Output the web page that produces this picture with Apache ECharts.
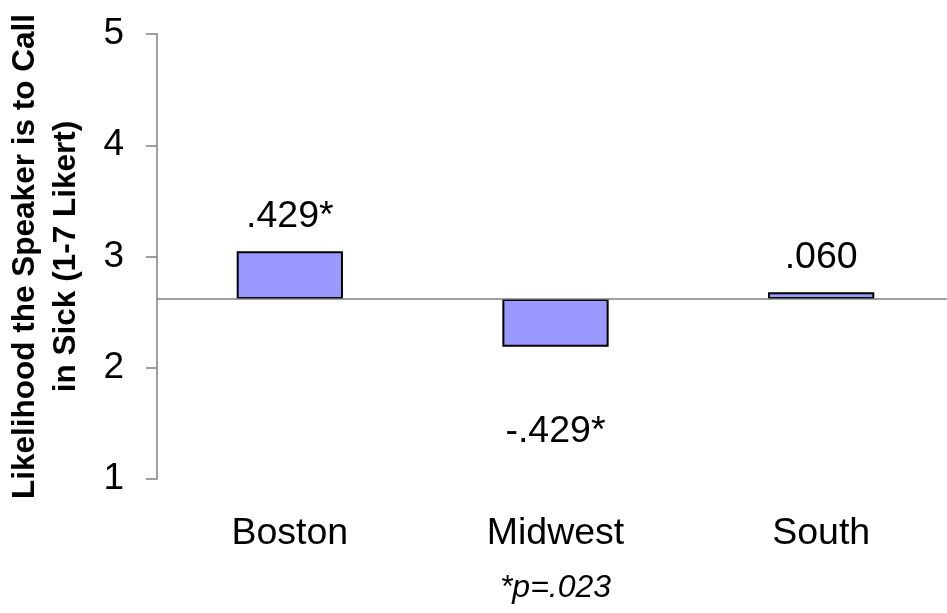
<!DOCTYPE html>
<html>
<head>
<meta charset="utf-8">
<script src="https://cdn.jsdelivr.net/npm/echarts@6/dist/echarts.min.js"></script>
<style>
html,body{margin:0;padding:0;background:#fff;}
#chart{width:947px;height:613px;}
</style>
</head>
<body>
<div id="chart"></div>
<script>
const categories = ['Boston', 'Midwest', 'South'];
const baseline = 2.618;
const deviations = [0.429, -0.429, 0.060];
const valueLabels = ['.429*', '-.429*', '.060'];
const yTickValues = [1, 2, 3, 4, 5];
const yTitle = 'Likelihood the Speaker is to Call\nin Sick (1-7 Likert)';
const xNote = '*p=.023';

const baseValues = deviations.map(d => d >= 0 ? baseline : baseline + d);
const barHeights = deviations.map(d => Math.abs(d));

const font = 'Arial, "Liberation Sans", sans-serif';
const chart = echarts.init(document.getElementById('chart'));
chart.setOption({
  animation: false,
  grid: { left: 157, right: -7, top: 34, bottom: 134, containLabel: false, outerBoundsMode: 'none' },
  xAxis: {
    type: 'category',
    data: categories,
    axisLine: { show: false },
    axisTick: { show: false },
    axisLabel: { color: '#000', fontSize: 37.5, fontFamily: font, margin: 36 },
    name: xNote,
    nameLocation: 'middle',
    nameGap: 93,
    nameTextStyle: { color: '#000', fontSize: 32, fontStyle: 'italic', fontFamily: font }
  },
  yAxis: {
    type: 'value',
    min: yTickValues[0],
    max: yTickValues[yTickValues.length - 1],
    interval: 1,
    splitLine: { show: false },
    axisLine: { show: true, lineStyle: { color: '#808080', width: 1.5 } },
    axisTick: { show: true, inside: false, length: 11, lineStyle: { color: '#808080', width: 1.5 } },
    axisLabel: { color: '#000', fontSize: 37, fontFamily: font, margin: 33 },
    name: yTitle,
    nameLocation: 'middle',
    nameRotate: 90,
    nameGap: 70,
    nameTextStyle: { color: '#000', fontSize: 31.5, fontWeight: 'bold', fontFamily: font, lineHeight: 41 }
  },
  series: [
    {
      type: 'bar',
      stack: 'dev',
      data: baseValues,
      barWidth: '40%',
      itemStyle: { color: 'rgba(0,0,0,0)' },
      silent: true,
      markLine: {
        silent: true,
        symbol: 'none',
        label: { show: false },
        lineStyle: { color: '#808080', width: 1.5, type: 'solid' },
        data: [{ yAxis: baseline }]
      }
    },
    {
      type: 'bar',
      stack: 'dev',
      data: barHeights.map((h, i) => ({
        value: h,
        label: {
          show: true,
          formatter: valueLabels[i],
          position: deviations[i] >= 0 ? 'top' : 'bottom',
          distance: deviations[i] >= 0 ? 16 : 66,
          color: '#000',
          fontSize: 37.5,
          fontFamily: font
        }
      })),
      barWidth: '40%',
      itemStyle: { color: '#9999FF', borderColor: '#000', borderWidth: 2 }
    }
  ]
});
</script>
</body>
</html>
